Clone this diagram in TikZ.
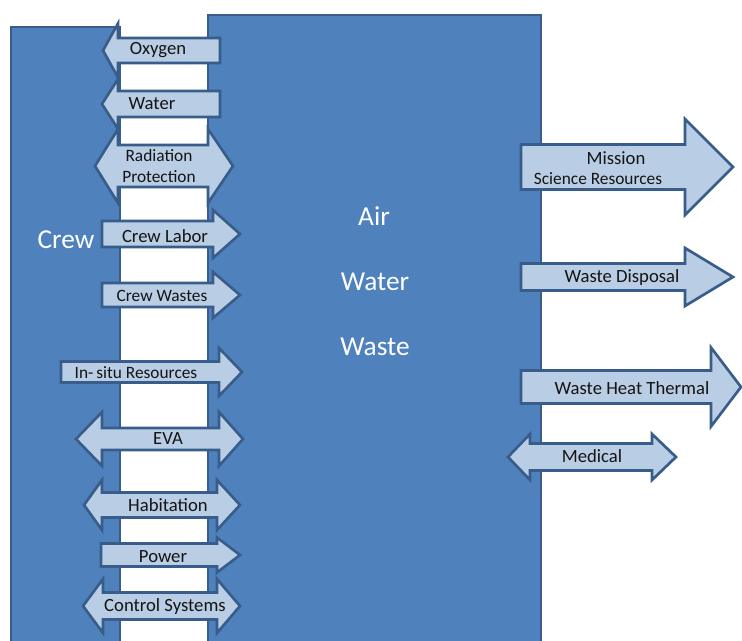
\documentclass[tikz,border=0pt]{standalone}
\usepackage{fontspec}
\setmainfont{Carlito}
\definecolor{mainblue}{HTML}{4F81BD}
\definecolor{edgeblue}{HTML}{385D8A}
\definecolor{lightblue}{HTML}{B9CDE5}
\definecolor{txt}{HTML}{141414}
\tikzset{
  block/.style={fill=mainblue, draw=edgeblue, line width=2pt},
  arrowshape/.style={fill=lightblue, draw=edgeblue, line width=2pt, line join=miter},
  lbl/.style={text=txt, font=\fontsize{14}{16}\selectfont, inner sep=0pt, anchor=center},
  slbl/.style={text=txt, font=\fontsize{13}{15}\selectfont, inner sep=0pt, anchor=center},
  big/.style={text=white, font=\fontsize{20.5}{24}\selectfont, inner sep=0pt, anchor=center}
}
% right arrow: left, back, tip, center y, body half, head half
\newcommand\RArr[6]{\filldraw[arrowshape] (#1,#4-#5) -- (#2,#4-#5) -- (#2,#4-#6) -- (#3,#4) -- (#2,#4+#6) -- (#2,#4+#5) -- (#1,#4+#5) -- cycle;}
% left arrow: tip, back, right end, center y, body half, head half
\newcommand\LArr[6]{\filldraw[arrowshape] (#1,#4) -- (#2,#4-#6) -- (#2,#4-#5) -- (#3,#4-#5) -- (#3,#4+#5) -- (#2,#4+#5) -- (#2,#4+#6) -- cycle;}
% double arrow: left tip, left back, right back, right tip, center y, body half, head half
\newcommand\DArr[7]{\filldraw[arrowshape] (#1,#5) -- (#2,#5-#7) -- (#2,#5-#6) -- (#3,#5-#6) -- (#3,#5-#7) -- (#4,#5) -- (#3,#5+#7) -- (#3,#5+#6) -- (#2,#5+#6) -- (#2,#5+#7) -- cycle;}
\begin{document}
\begin{tikzpicture}[x=0.75pt,y=-0.75pt]
\useasboundingbox (0,0) rectangle (742,641);
\begin{scope}
\clip (0,0) rectangle (742,641);
\filldraw[block] (11,27) rectangle (120,660);
\filldraw[block] (208,15) rectangle (541,660);
% left column arrows
\LArr{103}{118}{220}{50.5}{12.5}{27}
\LArr{102}{118}{220}{104}{13}{25}
\DArr{95}{118}{208}{233}{166}{21}{37}
\RArr{102}{213}{240}{234}{13}{24}
\RArr{102}{213}{240}{295}{12}{23}
\RArr{61}{219}{242}{372}{10.5}{24}
\DArr{76}{102}{219}{243}{439}{11}{27}
\DArr{84}{102}{217}{240}{505}{12.5}{25}
\RArr{101}{217}{240}{555}{11.5}{17.5}
\DArr{83}{103}{217}{240}{606}{13.5}{27}
% right arrows
\RArr{521}{685}{733}{167}{22.5}{48}
\RArr{521}{685}{733}{277}{13.5}{29}
\RArr{521}{711}{741}{387}{16.5}{39.5}
\DArr{508}{530}{652}{676}{457}{13.5}{23}
\end{scope}
\node[big] (crew) at (66,240) {Crew};
\node[big] (air) at (374,216) {Air};
\node[big] (water) at (375,282) {Water};
\node[big] (waste) at (375,347) {Waste};
\node[lbl] (oxygen) at (158,50) {Oxygen};
\node[lbl] (waterin) at (152,104) {Water};
\node[slbl] (rad1) at (159,156) {Radiation};
\node[slbl] (rad2) at (159,177) {Protection};
\node[lbl] (labor) at (165,236) {Crew Labor};
\node[slbl] (wastes) at (162,296) {Crew Wastes};
\node[slbl] (insitu) at (136,373) {In-\,situ Resources};
\node[lbl] (eva) at (168,439) {EVA};
\node[lbl] (hab) at (168,505) {Habitation};
\node[lbl] (power) at (163,557) {Power};
\node[lbl] (ctrl) at (165,607) {Control Systems};
\node[lbl] (mission) at (616,158) {Mission};
\node[slbl] (science) at (598,179) {Science Resources};
\node[lbl] (disposal) at (622,278) {Waste Disposal};
\node[lbl] (heat) at (632,388) {Waste Heat Thermal};
\node[lbl] (medical) at (592,456) {Medical};
\end{tikzpicture}
\end{document}
